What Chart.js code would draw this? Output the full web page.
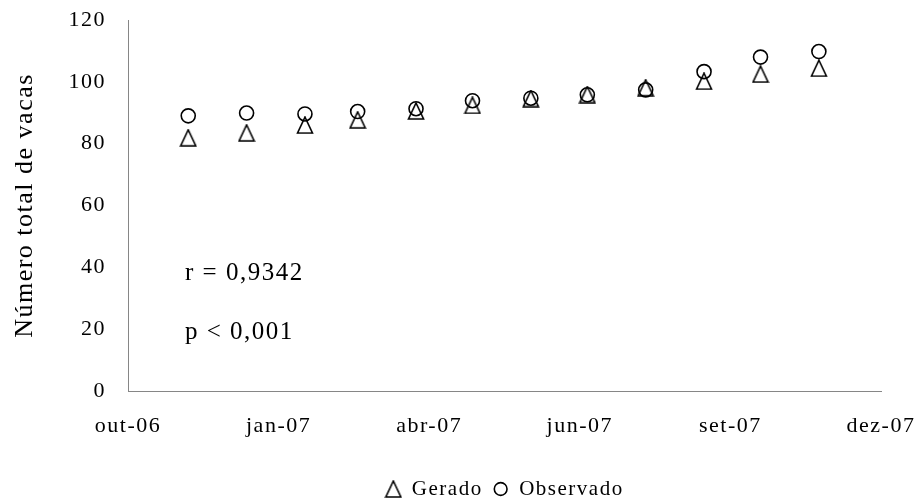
<!DOCTYPE html>
<html>
<head>
<meta charset="utf-8">
<script src="https://cdn.jsdelivr.net/npm/chart.js@4.4.1/dist/chart.umd.min.js"></script>
<style>
  html, body { margin: 0; padding: 0; background: #fff; }
  #wrap { width: 917px; height: 500px; }
</style>
</head>
<body>
<div id="wrap"><canvas id="cowChart"></canvas></div>
<script>
// monthly records, first day of each month
const months = ['2006-12-01', '2007-01-01', '2007-02-01', '2007-03-01', '2007-04-01', '2007-05-01',
                '2007-06-01', '2007-07-01', '2007-08-01', '2007-09-01', '2007-10-01', '2007-11-01'];
const gerado = [81.9, 83.5, 86.0, 87.7, 90.6, 92.4, 94.6, 95.9, 98.1, 100.2, 102.5, 104.4];
const observado = [89.0, 89.9, 89.6, 90.4, 91.3, 93.9, 94.7, 95.8, 97.4, 103.3, 108.0, 109.8];
const tickDates = ['2006-10-30', '2007-01-18', '2007-04-08', '2007-06-27', '2007-09-15', '2007-12-04'];
const monthNames = ['jan', 'fev', 'mar', 'abr', 'mai', 'jun', 'jul', 'ago', 'set', 'out', 'nov', 'dez'];
const statsText = ['r = 0,9342', 'p < 0,001'];

const serif = "'Liberation Serif', 'Times New Roman', serif";

function toDay(s) {
    const [y, m, d] = s.split('-').map(Number);
    return Date.UTC(y, m - 1, d) / 86400000;
}

function dayLabel(v) {
    const dt = new Date(v * 86400000);
    return monthNames[dt.getUTCMonth()] + '-' + String(dt.getUTCFullYear()).slice(2);
}

// open triangle marker, centred on its box like the spreadsheet marker
function triangleMarker() {
    const c = document.createElement('canvas');
    c.width = 18;
    c.height = 18;
    const g = c.getContext('2d');
    g.strokeStyle = '#000';
    g.lineWidth = 1.6;
    g.beginPath();
    g.moveTo(9, 1);
    g.lineTo(16.5, 17);
    g.lineTo(1.5, 17);
    g.closePath();
    g.stroke();
    return c;
}

const spacing = {
    id: 'spacing',
    beforeUpdate(chart) { chart.ctx.letterSpacing = '1.5px'; },
    beforeDraw(chart) { chart.ctx.letterSpacing = '1.5px'; },
    afterLayout(chart) {
        // push legend row down towards the bottom edge
        chart.legend.top += 9.5;
        chart.legend.bottom += 9.5;
    }
};

const stats = {
    id: 'stats',
    afterDraw(chart) {
        const ctx = chart.ctx;
        const a = chart.chartArea;
        ctx.save();
        ctx.font = '25px ' + serif;
        ctx.fillStyle = '#000';
        ctx.textBaseline = 'middle';
        ctx.textAlign = 'left';
        ctx.fillText(statsText[0], a.left + 57, a.top + (a.bottom - a.top) * 0.682);
        ctx.fillText(statsText[1], a.left + 57, a.top + (a.bottom - a.top) * 0.841);
        ctx.restore();
    }
};

const data = {
    datasets: [
        {
            label: 'Gerado',
            data: months.map((m, i) => ({ x: toDay(m), y: gerado[i] })),
            pointStyle: triangleMarker(),
            borderColor: '#000',
            backgroundColor: 'rgba(0,0,0,0)',
            borderWidth: 1.5
        },
        {
            label: 'Observado',
            data: months.map((m, i) => ({ x: toDay(m), y: observado[i] })),
            pointStyle: 'circle',
            pointRadius: 7,
            borderColor: '#000',
            backgroundColor: 'rgba(0,0,0,0)',
            borderWidth: 1.6
        }
    ]
};

const config = {
    type: 'scatter',
    data: data,
    options: {
        responsive: true,
        maintainAspectRatio: false,
        animation: false,
        events: [],
        layout: { padding: { top: 20, left: 0, right: 0, bottom: 0 } },
        plugins: {
            legend: {
                position: 'bottom',
                fullSize: false,
                labels: {
                    usePointStyle: true,
                    boxWidth: 16,
                    boxHeight: 9,
                    padding: 10,
                    color: '#000',
                    font: { family: serif, size: 21 }
                }
            },
            tooltip: { enabled: false }
        },
        scales: {
            x: {
                type: 'linear',
                min: toDay(tickDates[0]),
                max: toDay(tickDates[tickDates.length - 1]),
                grid: { display: false, drawTicks: false },
                border: { color: '#868686', width: 1 },
                ticks: {
                    padding: 22,
                    color: '#000',
                    font: { family: serif, size: 22 },
                    maxRotation: 0,
                    autoSkip: false,
                    callback: v => dayLabel(v)
                },
                afterBuildTicks: s => { s.ticks = tickDates.map(d => ({ value: toDay(d) })); },
                afterFit: s => { s.height = 68; s.paddingRight = 36; }
            },
            y: {
                min: 0,
                max: 120,
                grid: { display: false, drawTicks: false },
                border: { color: '#868686', width: 1 },
                ticks: {
                    stepSize: 20,
                    padding: 22,
                    color: '#000',
                    font: { family: serif, size: 22 }
                },
                title: {
                    display: true,
                    text: 'Número total de vacas',
                    color: '#000',
                    font: { family: serif, size: 26 },
                    padding: { top: 10, bottom: 0 }
                },
                afterFit: s => { s.width = 128; s.paddingTop = 0; }
            }
        }
    },
    plugins: [spacing, stats]
};

new Chart(document.getElementById('cowChart'), config);
</script>
</body>
</html>
